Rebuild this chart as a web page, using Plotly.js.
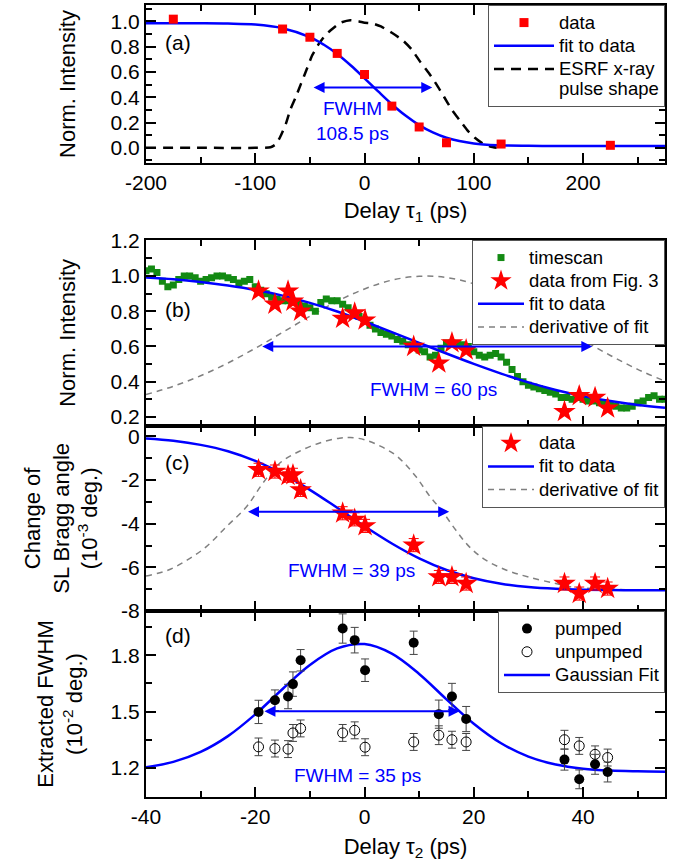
<!DOCTYPE html>
<html>
<head>
<meta charset="utf-8">
<script src="https://cdn.plot.ly/plotly-3.0.1.min.js"></script>
<style>html,body{margin:0;padding:0;background:#fff;}#chart{width:678px;height:866px;}</style>
</head>
<body>
<div id="chart"></div>
<script>
// ---------- Panel (a) ----------
const aDelay = [-175, -75, -50, -25, 0, 25, 50, 75, 125, 225];
const aIntensity = [1.018, 0.94, 0.875, 0.747, 0.58, 0.33, 0.165, 0.04, 0.03, 0.02];
const aFitDelay = [-200, -175, -150, -125, -100, -75, -50, -37.5, -25, -12.5, 0, 12.5, 25, 37.5, 50, 62.5, 75, 100, 125, 150, 175, 200, 225, 250, 275];
const aFitValue = [0.985, 0.985, 0.985, 0.983, 0.975, 0.946, 0.876, 0.817, 0.742, 0.651, 0.550, 0.446, 0.345, 0.255, 0.180, 0.122, 0.080, 0.035, 0.020, 0.016, 0.015, 0.015, 0.015, 0.015, 0.015];
const aPulseDelay = [-200, -150, -100, -86, -81, -77, -72, -68, -63, -58, -53, -48, -42, -36, -31, -22, -13, -5, 0, 7, 15, 25, 35, 43, 51, 59, 66, 73, 80, 87, 94, 101, 109, 115, 121];
const aPulseValue = [0, 0, 0, 0.005, 0.03, 0.09, 0.19, 0.30, 0.40, 0.51, 0.62, 0.73, 0.82, 0.89, 0.93, 0.99, 1.01, 1.0, 0.99, 0.985, 0.96, 0.91, 0.85, 0.78, 0.68, 0.59, 0.50, 0.40, 0.30, 0.22, 0.14, 0.08, 0.03, 0.01, 0.0];
const aXTickVals = [-200, -100, 0, 100, 200];
const aXTickText = ['-200', '-100', '0', '100', '200'];

// ---------- Panel (b) ----------
const bScanDelay = [-40,-39,-38,-37,-36,-35,-34,-33,-32,-31,-30,-29,-28,-27,-26,-25,-24,-23,-22,-21,-20,-19,-18,-17,-16,-15,-14,-13,-12,-11,-10,-9,-8,-7,-6,-5,-4,-3,-2,-1,0,1,2,3,4,5,6,7,8,9,10,11,12,13,14,15,16,17,18,19,20,21,22,23,24,25,26,27,28,29,30,31,32,33,34,35,36,37,38,39,40,41,42,43,44,45,46,47,48,49,50,51,52,53,54,55];
const bScanValue = [1.03,1.04,1.02,0.97,0.94,0.95,0.98,1.0,1.0,0.99,0.97,0.98,0.99,1.0,1.0,0.99,0.98,0.96,0.97,0.98,0.94,0.92,0.90,0.88,0.87,0.86,0.86,0.85,0.84,0.83,0.82,0.80,0.85,0.87,0.86,0.86,0.84,0.82,0.79,0.77,0.75,0.72,0.70,0.68,0.67,0.66,0.64,0.63,0.61,0.60,0.58,0.57,0.54,0.55,0.59,0.62,0.62,0.61,0.61,0.60,0.57,0.55,0.54,0.55,0.56,0.54,0.51,0.47,0.43,0.40,0.38,0.37,0.36,0.35,0.34,0.33,0.31,0.31,0.30,0.31,0.30,0.29,0.29,0.28,0.28,0.27,0.26,0.25,0.25,0.26,0.28,0.29,0.31,0.32,0.30,0.30];
const tau2Delay = [-19.4, -16.4, -14, -13.1, -11.7, -4, -1.8, 0.1, 9, 13.6, 16, 18.6, 36.6, 39.3, 42.2, 44.5];
const bStarValue = [0.914, 0.84, 0.914, 0.857, 0.80, 0.76, 0.79, 0.75, 0.60, 0.505, 0.62, 0.58, 0.23, 0.32, 0.31, 0.25];
const fitDelay = [-40, -35, -30, -25, -20, -15, -10, -5, 0, 5, 10, 15, 20, 25, 30, 35, 40, 45, 50, 55];
const bFitValue = [0.992, 0.982, 0.967, 0.947, 0.922, 0.889, 0.848, 0.799, 0.742, 0.682, 0.621, 0.560, 0.501, 0.446, 0.396, 0.353, 0.318, 0.290, 0.268, 0.252];
const bDerivValue = [0.327, 0.374, 0.434, 0.506, 0.590, 0.680, 0.772, 0.857, 0.927, 0.977, 0.999, 0.992, 0.956, 0.896, 0.817, 0.728, 0.636, 0.549, 0.470, 0.403];

// ---------- Panel (c) ----------
const cStarValue = [-1.53, -1.61, -1.80, -1.76, -2.45, -3.52, -3.80, -4.10, -4.98, -6.44, -6.44, -6.74, -6.74, -7.20, -6.74, -6.97];
const cStarError = [0.3, 0.3, 0.3, 0.3, 0.3, 0.3, 0.3, 0.3, 0.3, 0.3, 0.3, 0.3, 0.3, 0.3, 0.3, 0.3];
const cFitValue = [-0.097, -0.201, -0.388, -0.682, -1.124, -1.718, -2.447, -3.271, -4.117, -4.907, -5.589, -6.122, -6.499, -6.750, -6.899, -6.980, -7.020, -7.040, -7.047, -7.050];
const cDerivDelay = [-40, -36, -32.5, -29, -25.3, -21.6, -18.6, -15.5, -12, -8.2, -4.6, -2.6, 0, 3, 6, 9.4, 12, 14.3, 16.7, 19.2, 22.2, 26, 30, 35, 38, 45, 55];
const cDerivValue = [-6.40, -6.13, -5.67, -5.06, -4.14, -3.22, -2.14, -1.22, -0.69, -0.30, -0.08, -0.05, -0.15, -0.46, -0.92, -1.84, -2.76, -3.45, -4.29, -5.06, -5.67, -6.13, -6.44, -6.74, -6.90, -7.0, -7.05];
const cYTickVals = [0, -2, -4, -6, -8];
const cYTickText = ['0', '-2', '-4', '-6', '-8'];

// ---------- Panel (d) ----------
const dPumped = [1.498, 1.56, 1.58, 1.646, 1.773, 1.942, 1.88, 1.72, 1.866, 1.486, 1.58, 1.46, 1.244, 1.139, 1.219, 1.178];
const dPumpedError = [0.062, 0.055, 0.065, 0.065, 0.057, 0.078, 0.068, 0.06, 0.062, 0.075, 0.07, 0.067, 0.056, 0.05, 0.053, 0.053];
const dUnpumped = [1.312, 1.303, 1.30, 1.386, 1.41, 1.386, 1.40, 1.31, 1.338, 1.374, 1.35, 1.338, 1.35, 1.317, 1.272, 1.255];
const dUnpumpedError = [0.047, 0.045, 0.045, 0.045, 0.045, 0.045, 0.045, 0.045, 0.045, 0.05, 0.045, 0.045, 0.05, 0.045, 0.045, 0.045];
const dFitValue = [1.203, 1.232, 1.285, 1.369, 1.485, 1.620, 1.748, 1.836, 1.859, 1.808, 1.700, 1.565, 1.435, 1.331, 1.260, 1.218, 1.196, 1.186, 1.182, 1.180];
const tau2TickVals = [-40, -20, 0, 20, 40];
const tau2TickText = ['-40', '-20', '0', '20', '40'];

// ---------- Styles ----------
const FONT = 'Liberation Sans, Arial, sans-serif';
const RED = '#ff0000', BLUE = '#0000ff', GREEN = '#138a13', GRAY = '#808080';
const big = t => '<span style="font-size:18.5px">' + t + '</span>';

const traces = [
  // (a)
  {x: aPulseDelay, y: aPulseValue, xaxis: 'x', yaxis: 'y', mode: 'lines', name: big('ESRF x-ray') + '<br>' + big('pulse shape'),
   line: {color: 'black', width: 2.5, dash: '10px,7px', shape: 'spline', smoothing: 0.6}, legend: 'legend', legendrank: 3},
  {x: aFitDelay, y: aFitValue, xaxis: 'x', yaxis: 'y', mode: 'lines', name: big('fit to data'),
   line: {color: BLUE, width: 2.5, shape: 'spline'}, legend: 'legend', legendrank: 2},
  {x: aDelay, y: aIntensity, xaxis: 'x', yaxis: 'y', mode: 'markers', name: big('data'),
   marker: {symbol: 'square', size: 9, color: RED}, legend: 'legend', legendrank: 1},
  // (b)
  {x: fitDelay, y: bDerivValue, xaxis: 'x2', yaxis: 'y2', mode: 'lines', name: big('derivative of fit'),
   line: {color: GRAY, width: 1.5, dash: '6px,5px', shape: 'spline'}, legend: 'legend2', legendrank: 4},
  {x: bScanDelay, y: bScanValue, xaxis: 'x2', yaxis: 'y2', mode: 'markers', name: big('timescan'),
   marker: {symbol: 'square', size: 7, color: GREEN}, legend: 'legend2', legendrank: 1},
  {x: fitDelay, y: bFitValue, xaxis: 'x2', yaxis: 'y2', mode: 'lines', name: big('fit to data'),
   line: {color: BLUE, width: 2.5, shape: 'spline'}, legend: 'legend2', legendrank: 3},
  {x: tau2Delay, y: bStarValue, xaxis: 'x2', yaxis: 'y2', mode: 'markers', name: big('data from Fig. 3'),
   marker: {symbol: 'star', size: 17, color: RED}, legend: 'legend2', legendrank: 2},
  // (c)
  {x: cDerivDelay, y: cDerivValue, xaxis: 'x3', yaxis: 'y3', mode: 'lines', name: big('derivative of fit'),
   line: {color: GRAY, width: 1.5, dash: '6px,5px', shape: 'spline'}, legend: 'legend3', legendrank: 3},
  {x: fitDelay, y: cFitValue, xaxis: 'x3', yaxis: 'y3', mode: 'lines', name: big('fit to data'),
   line: {color: BLUE, width: 2.5, shape: 'spline'}, legend: 'legend3', legendrank: 2},
  {x: tau2Delay, y: cStarValue, xaxis: 'x3', yaxis: 'y3', mode: 'markers', name: big('data'),
   marker: {symbol: 'star', size: 17, color: RED},
   error_y: {type: 'data', array: cStarError, visible: true, color: RED, thickness: 1, width: 5},
   legend: 'legend3', legendrank: 1},
  // (d)
  {x: fitDelay, y: dFitValue, xaxis: 'x4', yaxis: 'y4', mode: 'lines', name: big('Gaussian Fit'),
   line: {color: BLUE, width: 2.5, shape: 'spline'}, legend: 'legend4', legendrank: 3},
  {x: tau2Delay, y: dUnpumped, xaxis: 'x4', yaxis: 'y4', mode: 'markers', name: big('unpumped'),
   marker: {symbol: 'circle-open', size: 10, color: 'black', line: {width: 1}},
   error_y: {type: 'data', array: dUnpumpedError, visible: true, color: '#444', thickness: 1, width: 4},
   legend: 'legend4', legendrank: 2},
  {x: tau2Delay, y: dPumped, xaxis: 'x4', yaxis: 'y4', mode: 'markers', name: big('pumped'),
   marker: {symbol: 'circle', size: 10, color: 'black'},
   error_y: {type: 'data', array: dPumpedError, visible: true, color: '#444', thickness: 1, width: 4},
   legend: 'legend4', legendrank: 1}
];

function axisStyle(extra) {
  return Object.assign({
    showline: true, linewidth: 2, linecolor: 'black', mirror: 'ticks',
    ticks: 'inside', ticklen: 10, tickwidth: 2, tickcolor: 'black',
    showgrid: false, zeroline: false, tickfont: {size: 21, family: FONT, color: 'black'}
  }, extra);
}
function minorStyle(dtick, tick0) {
  return {ticks: 'inside', ticklen: 6, tickwidth: 1.5, tickcolor: 'black', dtick: dtick, tick0: tick0, showgrid: false};
}
const titleFont = {size: 22, family: FONT, color: 'black'};
const legendBase = {xanchor: 'right', x: 1, yanchor: 'top', bgcolor: 'white', bordercolor: '#555', borderwidth: 1,
  font: {size: 15.5, family: FONT, color: 'black'}, valign: 'top', tracegroupgap: 0, itemwidth: 46};

const dA = [0.8005, 1.0], dB = [0.4688, 0.7033], dC = [0.2348, 0.4688], dD = [0.0, 0.2348];

function arrow(xref, yref, x0, x1, y) {
  return {xref: xref, yref: yref, axref: xref, ayref: yref, x: x1, y: y, ax: x0, ay: y, text: '',
    showarrow: true, arrowhead: 2, arrowside: 'end+start', arrowsize: 1.1, arrowwidth: 2, arrowcolor: BLUE,
    standoff: 0, startstandoff: 0};
}
function label(xref, yref, x, y, text, color, size) {
  return {xref: xref, yref: yref, x: x, y: y, text: text, showarrow: false,
    font: {size: size, family: FONT, color: color}, xanchor: 'center', yanchor: 'middle'};
}

const layout = {
  width: 678, height: 866,
  margin: {l: 146, r: 13, t: 5, b: 69},
  paper_bgcolor: 'white', plot_bgcolor: 'white',
  font: {family: FONT, color: 'black'},
  xaxis: axisStyle({domain: [0, 1], anchor: 'y', range: [-200, 275], tickmode: 'array', tickvals: aXTickVals, ticktext: aXTickText,
    minor: minorStyle(50, 0), title: {text: 'Delay \u03c4<sub>1</sub> (ps)', font: titleFont, standoff: 9}}),
  yaxis: axisStyle({domain: dA, anchor: 'x', range: [-0.12, 1.13], dtick: 0.2, tick0: 0, tickformat: '.1f',
    minor: minorStyle(0.1, 0), title: {text: 'Norm. Intensity', font: titleFont, standoff: 29}}),
  xaxis2: axisStyle({domain: [0, 1], anchor: 'y2', range: [-40, 55], matches: 'x4', tickmode: 'array', tickvals: tau2TickVals, ticktext: tau2TickText,
    showticklabels: false, minor: minorStyle(10, 0)}),
  yaxis2: axisStyle({domain: dB, anchor: 'x2', range: [0.15, 1.205], dtick: 0.2, tick0: 0.2, tickformat: '.1f',
    minor: minorStyle(0.1, 0.1), title: {text: 'Norm. Intensity', font: titleFont, standoff: 29}}),
  xaxis3: axisStyle({domain: [0, 1], anchor: 'y3', range: [-40, 55], matches: 'x4', tickmode: 'array', tickvals: tau2TickVals, ticktext: tau2TickText,
    showticklabels: false, minor: minorStyle(10, 0)}),
  yaxis3: axisStyle({domain: dC, anchor: 'x3', range: [-8, 0.49], tickmode: 'array', tickvals: cYTickVals, ticktext: cYTickText,
    minor: minorStyle(1, 0), title: {text: 'Change of<br>SL Bragg angle<br>(10<sup>-3</sup> deg.)', font: titleFont, standoff: 17}}),
  xaxis4: axisStyle({domain: [0, 1], anchor: 'y4', range: [-40, 55], tickmode: 'array', tickvals: tau2TickVals, ticktext: tau2TickText,
    minor: minorStyle(10, 0), title: {text: 'Delay \u03c4<sub>2</sub> (ps)', font: titleFont, standoff: 11}}),
  yaxis4: axisStyle({domain: dD, anchor: 'x4', range: [1.045, 2.035], dtick: 0.3, tick0: 1.2, tickformat: '.1f',
    minor: minorStyle(0.15, 1.2), title: {text: 'Extracted FWHM<br>(10<sup>-2</sup> deg.)', font: titleFont, standoff: 22}}),
  legend: Object.assign({}, legendBase, {y: dA[1], itemwidth: 60}),
  legend2: Object.assign({}, legendBase, {y: dB[1]}),
  legend3: Object.assign({}, legendBase, {y: dC[1]}),
  legend4: Object.assign({}, legendBase, {y: dD[1]}),
  annotations: [
    arrow('x', 'y', -48, 62, 0.478),
    arrow('x2', 'y2', -19, 41.7, 0.6),
    arrow('x3', 'y3', -21.6, 15.5, -3.45),
    arrow('x4', 'y4', -18.6, 17.4, 1.502),
    label('x', 'y', -11, 0.215, 'FWHM<br>108.5 ps', BLUE, 19),
    label('x2', 'y2', 12.6, 0.353, 'FWHM = 60 ps', BLUE, 19),
    label('x3', 'y3', -2.3, -6.13, 'FWHM = 39 ps', BLUE, 19),
    label('x4', 'y4', -1.2, 1.16, 'FWHM = 35 ps', BLUE, 19),
    label('x', 'y', -171, 0.836, '(a)', 'black', 21),
    label('x2', 'y2', -34.2, 0.81, '(b)', 'black', 21),
    label('x3', 'y3', -34.2, -1.18, '(c)', 'black', 21),
    label('x4', 'y4', -34.2, 1.907, '(d)', 'black', 21)
  ]
};

Plotly.newPlot('chart', traces, layout, {displayModeBar: false, responsive: false});
</script>
</body>
</html>
